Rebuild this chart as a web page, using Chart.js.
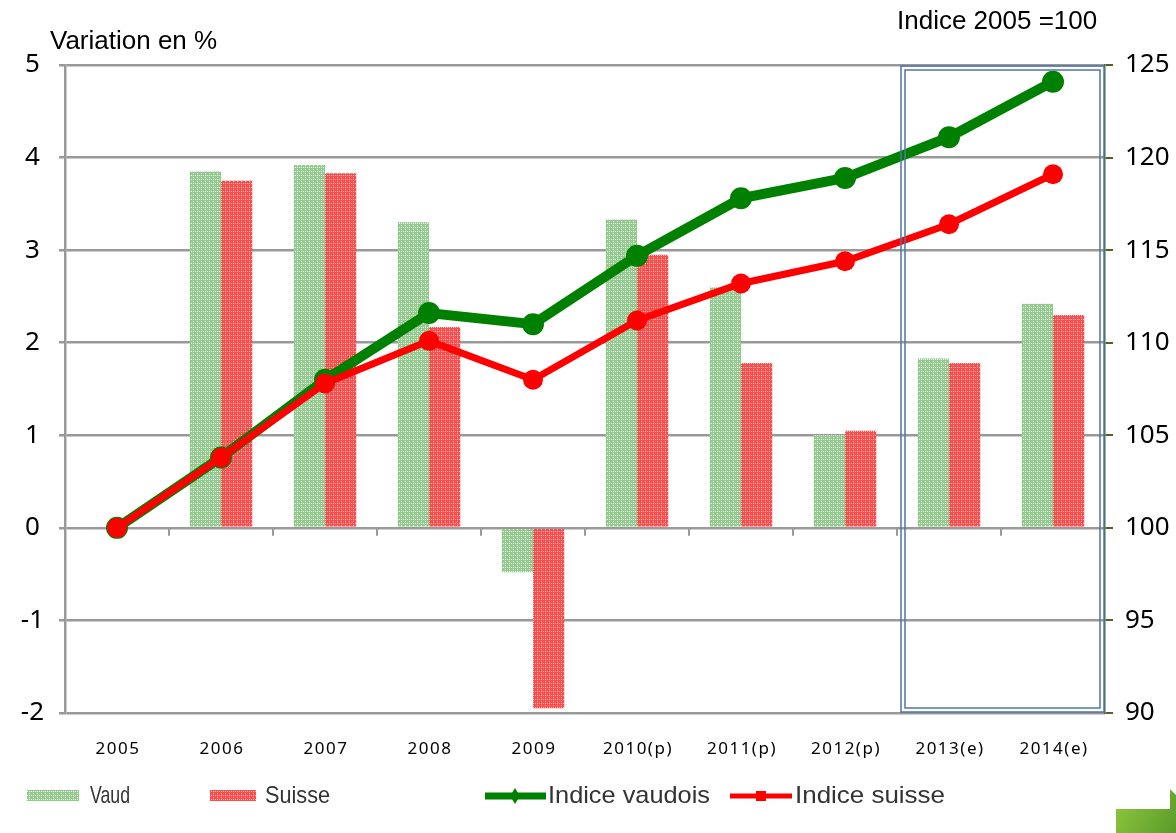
<!DOCTYPE html>
<html>
<head>
<meta charset="utf-8">
<script src="https://cdn.jsdelivr.net/npm/chart.js@4"></script>
<style>
  body { margin: 0; background: #fff; }
  #wrap { width: 1176px; height: 833px; position: relative; }
</style>
</head>
<body>
<div id="wrap"><canvas id="chart" width="1176" height="833"></canvas></div>
<script>
// Categories
const years = ['2005', '2006', '2007', '2008', '2009', '2010(p)', '2011(p)', '2012(p)', '2013(e)', '2014(e)'];

// Annual variation in % (left axis)
const vaudVar = [null, 3.85, 3.92, 3.30, -0.48, 3.33, 2.60, 1.00, 1.83, 2.42];
const suisseVar = [null, 3.75, 3.83, 2.17, -1.95, 2.95, 1.78, 1.05, 1.78, 2.30];

// Index 2005 = 100 (right axis)
const indiceVaud = [100, 103.8, 108.0, 111.6, 111.0, 114.7, 117.8, 118.9, 121.1, 124.1];
const indiceSuisse = [100, 103.8, 107.8, 110.1, 108.0, 111.2, 113.2, 114.4, 116.4, 119.1];

// Dotted fill like the original bars
function makePattern(base, dot) {
    const c = document.createElement('canvas');
    c.width = 4; c.height = 4;
    const g = c.getContext('2d');
    g.fillStyle = base;
    g.fillRect(0, 0, 4, 4);
    g.fillStyle = dot;
    g.fillRect(1, 1, 1, 1);
    g.fillRect(3, 3, 1, 1);
    g.fillRect(1, 3, 1, 1);
    return g.createPattern(c, 'repeat');
}
const ctx = document.getElementById('chart').getContext('2d');
const greenFill = makePattern('#8fcc8a', '#ffffff');
const redFill = makePattern('#ff4a4a', '#ffc8c8');

// squeeze a legend text into the width it has in the original
function fitText(c, txt, x0, y0, w) {
    const natural = c.measureText(txt).width;
    c.save();
    c.translate(x0, y0);
    c.scale(w / natural, 1);
    c.fillText(txt, 0, 0);
    c.restore();
}

// Extra drawing: titles, x labels, box round estimates, x ticks on zero line, legend, corner arrow
const extras = {
    id: 'extras',
    afterDraw(chart) {
        const c = chart.ctx;
        const x = chart.scales.x;
        const y = chart.scales.y;
        const area = chart.chartArea;
        c.save();

        // axis titles
        c.fillStyle = '#000';
        c.font = '26px "Liberation Sans", Arial, sans-serif';
        c.textBaseline = 'middle';
        c.textAlign = 'left';
        c.fillText('Variation en %', 50, 42);
        c.fillText('Indice 2005 =100', 897, 22);

        // x labels (spaced out like the original)
        c.font = '17px "Noto Sans", "Open Sans", sans-serif';
        c.letterSpacing = '1.5px';
        c.textAlign = 'center';
        years.forEach((lab, i) => {
            c.fillText(lab, x.getPixelForValue(i) + 1, 749);
        });
        c.letterSpacing = '0px';

        // tick marks on zero line at category borders
        const y0 = y.getPixelForValue(0);
        c.strokeStyle = '#999';
        c.lineWidth = 2;
        for (let i = 1; i < years.length; i++) {
            const px = (x.getPixelForValue(i - 1) + x.getPixelForValue(i)) / 2;
            c.beginPath();
            c.moveTo(px, y0);
            c.lineTo(px, y0 + 8);
            c.stroke();
        }

        // double box round the estimated years
        const bx = (x.getPixelForValue(7) + x.getPixelForValue(8)) / 2 + 4;
        const br = area.right - 1;
        c.strokeStyle = '#4f74a8';
        c.lineWidth = 1.5;
        c.strokeRect(bx, area.top + 1, br - bx, area.bottom - area.top - 2);
        c.strokeRect(bx + 4, area.top + 5, br - bx - 8, area.bottom - area.top - 10);

        // legend
        const ly = 796;
        c.textAlign = 'left';
        c.font = '24px "Liberation Sans", Arial, sans-serif';
        c.fillStyle = greenFill;
        c.fillRect(27, ly - 6, 52, 11);
        c.fillStyle = redFill;
        c.fillRect(210, ly - 6, 46, 11);
        c.fillStyle = '#333';
        fitText(c, 'Vaud', 90, ly, 40);
        fitText(c, 'Suisse', 265, ly, 65);
        c.strokeStyle = '#008000';
        c.lineWidth = 7;
        c.beginPath(); c.moveTo(485, ly); c.lineTo(546, ly); c.stroke();
        c.fillStyle = '#008000';
        c.beginPath();
        c.moveTo(515, ly - 8); c.lineTo(520, ly); c.lineTo(515, ly + 8); c.lineTo(510, ly);
        c.closePath(); c.fill();
        c.fillStyle = '#333';
        fitText(c, 'Indice vaudois', 548, ly, 162);
        c.strokeStyle = '#ff0000';
        c.lineWidth = 5;
        c.beginPath(); c.moveTo(730, ly); c.lineTo(792, ly); c.stroke();
        c.fillStyle = '#ff0000';
        c.fillRect(756, ly - 5, 10, 10);
        c.fillStyle = '#333';
        fitText(c, 'Indice suisse', 795, ly, 150);

        // green corner arrow
        const grad = c.createLinearGradient(1116, 800, 1176, 833);
        grad.addColorStop(0, '#8cc63f');
        grad.addColorStop(1, '#5a9a2a');
        c.fillStyle = grad;
        c.beginPath();
        c.moveTo(1116, 809);
        c.lineTo(1170, 809);
        c.lineTo(1170, 789);
        c.lineTo(1176, 795);
        c.lineTo(1176, 833);
        c.lineTo(1116, 833);
        c.closePath();
        c.fill();

        c.restore();
    }
};

const tickFont = { family: '"Noto Sans", "Open Sans", sans-serif', size: 26 };

new Chart(ctx, {
    type: 'bar',
    data: {
        labels: years,
        datasets: [
            {
                label: 'Vaud',
                data: vaudVar,
                backgroundColor: greenFill,
                yAxisID: 'y',
                order: 3,
                categoryPercentage: 0.6,
                barPercentage: 1.0
            },
            {
                label: 'Suisse',
                data: suisseVar,
                backgroundColor: redFill,
                yAxisID: 'y',
                order: 3,
                categoryPercentage: 0.6,
                barPercentage: 1.0
            },
            {
                type: 'line',
                label: 'Indice vaudois',
                data: indiceVaud,
                borderColor: '#008000',
                backgroundColor: '#008000',
                borderWidth: 10,
                pointRadius: 11,
                pointBorderWidth: 0,
                yAxisID: 'y1',
                order: 2
            },
            {
                type: 'line',
                label: 'Indice suisse',
                data: indiceSuisse,
                borderColor: '#ff0000',
                backgroundColor: '#ff0000',
                borderWidth: 7,
                pointRadius: 10,
                pointBorderWidth: 0,
                yAxisID: 'y1',
                order: 1
            }
        ]
    },
    options: {
        responsive: false,
        animation: false,
        layout: {
            padding: { top: 65, bottom: 63, left: 0, right: 0 }
        },
        plugins: {
            legend: { display: false },
            tooltip: { enabled: false }
        },
        scales: {
            x: {
                grid: { display: false },
                border: { display: false },
                ticks: { display: false },
                afterFit(scale) { scale.height = 57; }
            },
            y: {
                position: 'left',
                min: -2,
                max: 5,
                ticks: {
                    stepSize: 1,
                    color: '#000',
                    font: tickFont,
                    padding: 15,
                    crossAlign: 'center'
                },
                grid: {
                    color: '#999',
                    lineWidth: 2.5,
                    tickLength: 6
                },
                border: { color: '#999', width: 2.5 },
                afterFit(scale) { scale.width = 65; }
            },
            y1: {
                position: 'right',
                min: 90,
                max: 125,
                ticks: {
                    stepSize: 5,
                    color: '#000',
                    font: tickFont,
                    padding: 12
                },
                grid: {
                    drawOnChartArea: false,
                    color: '#4f6228',
                    lineWidth: 2,
                    tickLength: 8
                },
                border: { color: '#4f6228', width: 1.5 },
                afterFit(scale) { scale.width = 71; }
            }
        }
    },
    plugins: [extras]
});
</script>
</body>
</html>
